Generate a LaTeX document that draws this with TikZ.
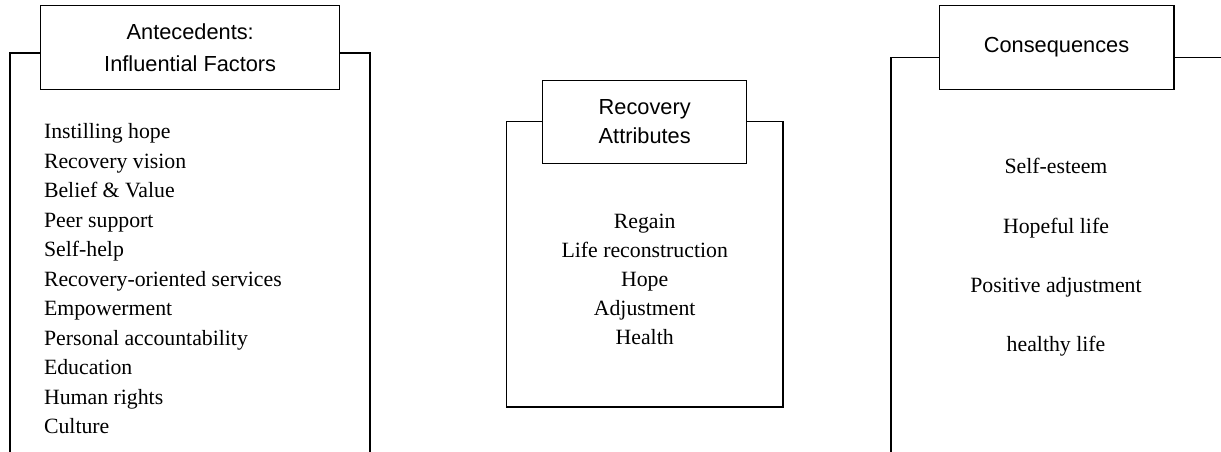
\documentclass[tikz,border=0pt]{standalone}
\usepackage{fontspec}
\setmainfont{Liberation Serif}
\setsansfont{Liberation Sans}
\usetikzlibrary{positioning}
\tikzstyle{every path}+=[line width=0.6pt]
\tikzstyle{titlebox}=[draw,fill=white,align=center,inner sep=0pt,minimum height=1.666cm]
\tikzstyle{item}=[inner sep=0pt,font=\fontsize{12.4}{15}\selectfont]

\begin{document}
\begin{tikzpicture}[x=0.02cm,y=-0.02cm]
    \useasboundingbox (0,0) rectangle (1221,452);

    % antecedents
    \node[titlebox,minimum width=5.98cm,font=\sffamily\fontsize{12.4}{18.2}\selectfont]
        (anteTitle) at (190.2,47.4) {Antecedents:\\Influential Factors};
    \coordinate (anteTL) at (10,53);
    \coordinate (anteTR) at (370,53);
    \draw (anteTitle.west |- anteTL) -- (anteTL) -- (anteTL |- 0,452);
    \draw (anteTitle.east |- anteTR) -- (anteTR) -- (anteTR |- 0,452);
    \foreach \txt [count=\i] in {Instilling hope, Recovery vision, Belief \& Value,
        Peer support, Self-help, Recovery-oriented services, Empowerment,
        Personal accountability, Education, Human rights, Culture}
        \node[item,anchor=base west] (ante\i) at (43.5,{139+29.5*(\i-1)}) {\txt};

    % attributes
    \node[titlebox,minimum width=4.08cm,font=\sffamily\fontsize{12.4}{16.5}\selectfont]
        (attrTitle) at (644.7,121.7) {Recovery\\Attributes};
    \coordinate (attrTL) at (506.7,121.7);
    \coordinate (attrBR) at (783,407);
    \draw (attrTitle.west) -- (attrTL) -- (attrTL |- attrBR) -- (attrBR)
        -- (attrBR |- attrTL) -- (attrTitle.east);
    \foreach \txt [count=\i] in {Regain, Life reconstruction, Hope, Adjustment, Health}
        \node[item,anchor=base] (attr\i) at (644.7,{229+29*(\i-1)}) {\txt};

    % consequences
    \node[titlebox,minimum width=4.7cm,font=\sffamily\fontsize{12.4}{16.5}\selectfont]
        (consTitle) at (1056.5,47.4) {Consequences};
    \coordinate (consTL) at (891,57.7);
    \coordinate (consTR) at (1221,57.7);
    \draw (consTitle.west |- consTL) -- (consTL) -- (consTL |- 0,452);
    \draw (consTitle.east |- consTR) -- (consTR);
    \foreach \txt [count=\i] in {Self-esteem, Hopeful life, Positive adjustment, healthy life}
        \node[item,anchor=base] (cons\i) at (1056,{174+59.3*(\i-1)}) {\txt};
\end{tikzpicture}
\end{document}
